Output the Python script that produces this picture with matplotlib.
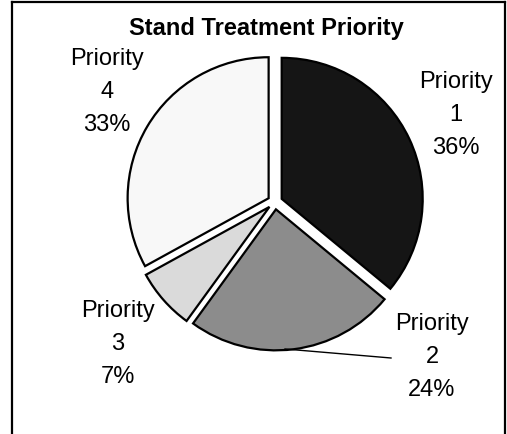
import matplotlib.pyplot as plt
from matplotlib.lines import Line2D

plt.rcParams['font.family'] = ['Liberation Sans', 'DejaVu Sans']

# stand treatment priority shares (percent)
priorities = ['1', '2', '3', '4']
shares = [36, 24, 7, 33]
fills = ['#151515', '#8c8c8c', '#dadada', '#f8f8f8']

# label block centres in figure pixels (x, y from top)
label_pos = [(456, 115), (432, 357), (118, 344), (107, 92)]

W, H = 507, 435
fig = plt.figure(figsize=(W / 100, H / 100), dpi=100)
ax = fig.add_axes([0, 0, 1, 1])

cx, cy, r = 275, H - 203, 141
# explode offsets are in data units here (pixels)
wedges, _ = ax.pie(shares, colors=fills, startangle=90, counterclock=False,
                   center=(cx, cy), radius=r, explode=[7.4] * len(shares),
                   wedgeprops=dict(edgecolor='black', linewidth=1.6))
ax.set_xlim(0, W)
ax.set_ylim(0, H)
ax.set_aspect('equal')
ax.axis('off')

for p, s, (lx, ly) in zip(priorities, shares, label_pos):
    ax.text(lx, H - ly, f'Priority\n{p}\n{s}%', ha='center', va='center',
            fontsize=17, linespacing=1.62, color='black')

# leader line from the priority 2 wedge to its label
ax.plot([285, 391], [H - 350, H - 359], color='black', linewidth=1.0)

ax.text(266, H - 28, 'Stand Treatment Priority', ha='center', va='center',
        fontsize=17, fontweight='bold')

# chart frame (bottom edge falls outside the image)
for xs, ys in [([11.5, 11.5], [0, H - 3]), ([11.5, 505], [H - 3, H - 3]),
               ([505, 505], [H - 3, 0])]:
    ax.add_line(Line2D(xs, ys, color='black', linewidth=1.6))

fig.savefig('out.png', dpi=100)
